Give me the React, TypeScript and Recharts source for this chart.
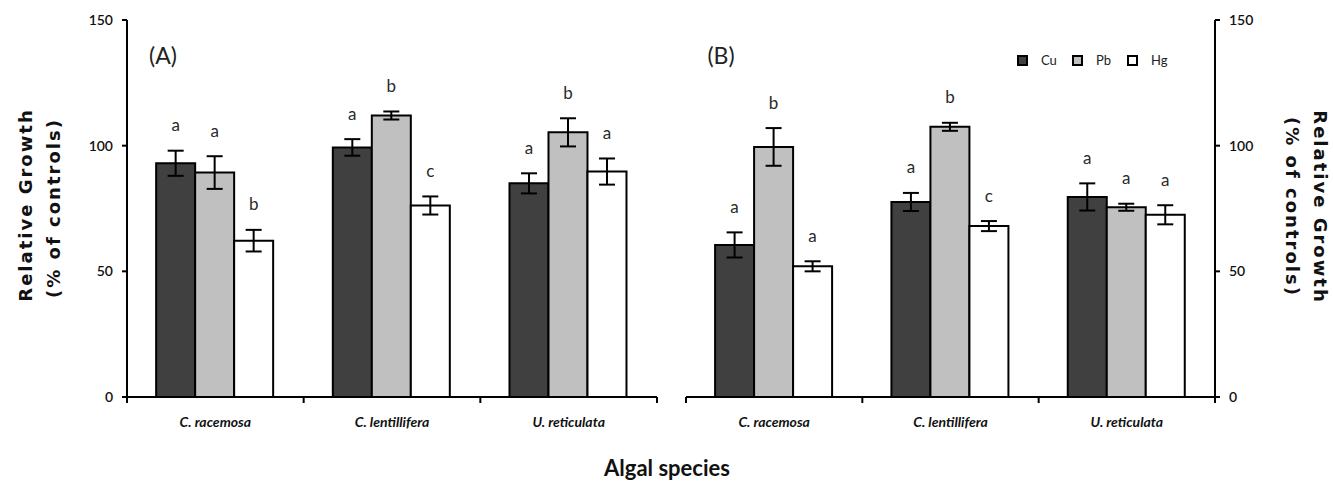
import { BarChart, Bar, XAxis, YAxis, ErrorBar, LabelList } from "recharts";

const species = ["C. racemosa", "C. lentillifera", "U. reticulata"];
const yTicks = [0, 50, 100, 150];

// panel (A)
const cuA = [93, 99.3, 85];
const pbA = [89.3, 112, 105.3];
const hgA = [62.2, 76.2, 89.7];
const cuErrA = [5, 3.3, 4];
const pbErrA = [6.5, 1.6, 5.6];
const hgErrA = [4.3, 3.6, 5.2];
const cuLetA = ["a", "a", "a"];
const pbLetA = ["a", "b", "b"];
const hgLetA = ["b", "c", "a"];

// panel (B)
const cuB = [60.5, 77.6, 79.6];
const pbB = [99.5, 107.5, 75.5];
const hgB = [52, 68, 72.5];
const cuErrB = [5, 3.6, 5.4];
const pbErrB = [7.5, 1.6, 1.4];
const hgErrB = [2, 2, 3.8];
const cuLetB = ["a", "a", "a"];
const pbLetB = ["b", "b", "a"];
const hgLetB = ["a", "c", "a"];

const metals = ["Cu", "Pb", "Hg"];
const COLORS = { cu: "#404040", pb: "#c0c0c0", hg: "#ffffff" };
const CALIBRI = "Lato, 'Open Sans', sans-serif";

const makeRows = (cu: number[], pb: number[], hg: number[], ce: number[], pe: number[], he: number[]) =>
    species.map((s, i) => ({ species: s, cu: cu[i], pb: pb[i], hg: hg[i], cuErr: ce[i], pbErr: pe[i], hgErr: he[i] }));

const dataA = makeRows(cuA, pbA, hgA, cuErrA, pbErrA, hgErrA);
const dataB = makeRows(cuB, pbB, hgB, cuErrB, pbErrB, hgErrB);

// letter sits above the error bar; px per unit taken from the bar itself
const letterLabel = (errs: number[], letters: string[]) => (props: any) => {
    const { x, y, width, height, value, index } = props;
    const errPx = value ? (errs[index] * height) / value : 0;
    return (
        <text
            x={x + width / 2}
            y={y - errPx - 26}
            textAnchor="middle"
            dominantBaseline="central"
            fontFamily={CALIBRI}
            fontSize={17}
            fill="#2a2a2a"
        >
            {letters[index]}
        </text>
    );
};

// label at the band centre, tick marks on the band edges
const CategoryTick = (props: any) => {
    const { x, y, payload, index, visibleTicksCount } = props;
    const half = payload.offset || 0;
    const isLast = index === visibleTicksCount - 1;
    return (
        <g>
            <line x1={x - half} x2={x - half} y1={y} y2={y + 6} stroke="#000" strokeWidth={2} />
            {isLast && <line x1={x + half} x2={x + half} y1={y} y2={y + 6} stroke="#000" strokeWidth={2} />}
            <text x={x} y={y + 30} textAnchor="middle" fontFamily={CALIBRI} fontSize={14} fontStyle="italic" fontWeight="bold" fill="#111">
                {payload.value}
            </text>
        </g>
    );
};

interface PanelProps {
    data: any[];
    letters: string[][];
    errs: number[][];
    side: "left" | "right";
}

function Panel({ data, letters, errs, side }: PanelProps) {
    const isLeft = side === "left";
    const other = isLeft ? "right" : "left";
    return (
        <BarChart
            width={isLeft ? 670 : 663}
            height={483}
            data={data}
            margin={isLeft ? { top: 20, right: 13, left: 0, bottom: 46 } : { top: 20, right: 68, left: 16, bottom: 46 }}
            barCategoryGap="16.5%"
            barGap={0}
        >
            <XAxis
                xAxisId="t"
                orientation="top"
                dataKey="species"
                height={0}
                tick={false}
                tickLine={false}
                axisLine={{ stroke: "#000", strokeWidth: 2 }}
            />
            <XAxis
                dataKey="species"
                height={40}
                axisLine={{ stroke: "#000", strokeWidth: 2 }}
                tickLine={false}
                tickSize={0}
                tickMargin={0}
                tick={<CategoryTick />}
                interval={0}
            />
            <YAxis
                orientation={side}
                width={isLeft ? 127 : 50}
                domain={[0, 150]}
                ticks={yTicks}
                axisLine={{ stroke: "#000", strokeWidth: 2 }}
                tickLine={{ stroke: "#000", strokeWidth: 2 }}
                tickSize={5}
                tickMargin={9}
                tick={{ fontFamily: CALIBRI, fontSize: 14, fill: "#111", fontWeight: 600 }}
            />
            <YAxis
                yAxisId="o"
                orientation={other}
                width={0}
                domain={[0, 150]}
                allowDataOverflow
                tick={false}
                tickLine={false}
                axisLine={{ stroke: "#000", strokeWidth: 2 }}
            />
            <Bar dataKey="cu" name="Cu" fill={COLORS.cu} stroke="#000" strokeWidth={2} isAnimationActive={false}>
                <ErrorBar dataKey="cuErr" width={8} stroke="#000" strokeWidth={2} direction="y" />
                <LabelList dataKey="cu" content={letterLabel(errs[0], letters[0])} />
            </Bar>
            <Bar dataKey="pb" name="Pb" fill={COLORS.pb} stroke="#000" strokeWidth={2} isAnimationActive={false}>
                <ErrorBar dataKey="pbErr" width={8} stroke="#000" strokeWidth={2} direction="y" />
                <LabelList dataKey="pb" content={letterLabel(errs[1], letters[1])} />
            </Bar>
            <Bar dataKey="hg" name="Hg" fill={COLORS.hg} stroke="#000" strokeWidth={2} isAnimationActive={false}>
                <ErrorBar dataKey="hgErr" width={8} stroke="#000" strokeWidth={2} direction="y" />
                <LabelList dataKey="hg" content={letterLabel(errs[2], letters[2])} />
            </Bar>
        </BarChart>
    );
}

const titleFont = { fontFamily: "'DejaVu Sans', Verdana, sans-serif", fontSize: 18, fontWeight: "bold" as const, letterSpacing: 2, fill: "#111" };
const legendFill = [COLORS.cu, COLORS.pb, COLORS.hg];

export default function App() {
    return (
        <div style={{ position: "absolute", left: 0, top: 0, width: 1333, height: 483, background: "#fff" }}>
            <div style={{ position: "absolute", left: 0, top: 0 }}>
                <Panel data={dataA} letters={[cuLetA, pbLetA, hgLetA]} errs={[cuErrA, pbErrA, hgErrA]} side="left" />
            </div>
            <div style={{ position: "absolute", left: 670, top: 0 }}>
                <Panel data={dataB} letters={[cuLetB, pbLetB, hgLetB]} errs={[cuErrB, pbErrB, hgErrB]} side="right" />
            </div>
            <div style={{ position: "absolute", left: 1017, top: 52, display: "flex", fontFamily: CALIBRI, fontSize: 13, color: "#222" }}>
                {metals.map((m, i) => (
                    <div key={m} style={{ display: "flex", alignItems: "center", width: 55 }}>
                        <span style={{ width: 7, height: 7, border: "2px solid #000", background: legendFill[i], marginRight: 13 }} />
                        <span>{m}</span>
                    </div>
                ))}
            </div>
            <svg width={1333} height={483} style={{ position: "absolute", left: 0, top: 0, pointerEvents: "none" }}>
                <text x={25} y={205} transform="rotate(-90 25 205)" textAnchor="middle" dominantBaseline="central" {...titleFont}>
                    Relative Growth
                </text>
                <text x={53} y={208} transform="rotate(-90 53 208)" textAnchor="middle" dominantBaseline="central" {...titleFont}>
                    (% of controls)
                </text>
                <text x={1320} y={207} transform="rotate(90 1320 207)" textAnchor="middle" dominantBaseline="central" {...titleFont}>
                    Relative Growth
                </text>
                <text x={1292} y={207} transform="rotate(90 1292 207)" textAnchor="middle" dominantBaseline="central" {...titleFont}>
                    (% of controls)
                </text>
                <text x={163} y={55} textAnchor="middle" dominantBaseline="central" fontFamily={CALIBRI} fontSize={23} fill="#222">
                    (A)
                </text>
                <text x={721} y={55} textAnchor="middle" dominantBaseline="central" fontFamily={CALIBRI} fontSize={23} fill="#222">
                    (B)
                </text>
                <text x={667} y={467} textAnchor="middle" dominantBaseline="central" fontFamily={CALIBRI} fontSize={22} fontWeight="bold" fill="#111">
                    Algal species
                </text>
            </svg>
        </div>
    );
}
